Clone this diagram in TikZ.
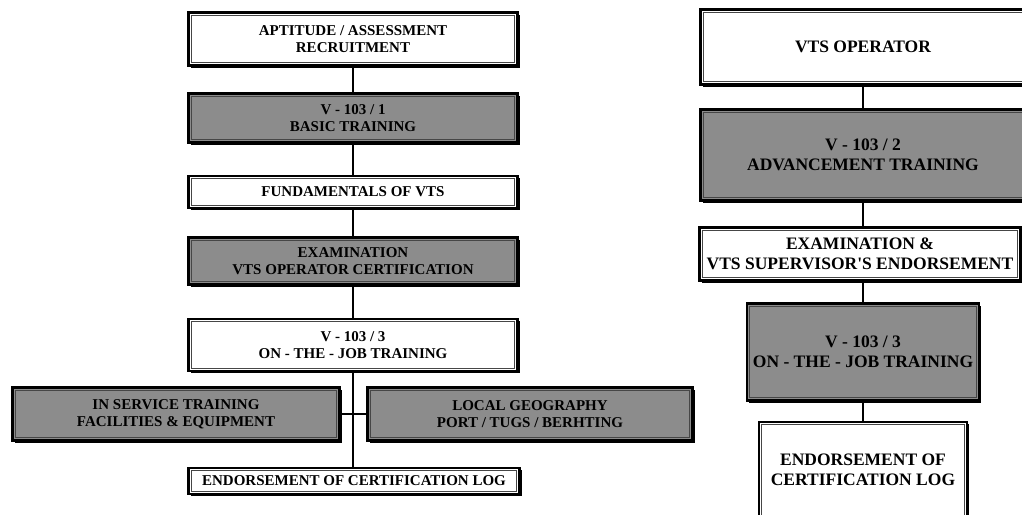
\documentclass[tikz,border=0pt]{standalone}
\usepackage{fontspec}
\setmainfont{Liberation Serif}
\usetikzlibrary{shadows,calc}
\definecolor{boxgray}{RGB}{140,140,140}
\definecolor{innerline}{RGB}{70,70,70}
\tikzset{
  vbox/.style={draw=black, line width=2.2pt, inner sep=0pt, align=center,
    font=\bfseries\fontsize{15}{17}\selectfont,
    drop shadow={shadow xshift=2pt, shadow yshift=-2pt, fill=black, opacity=1}},
  wbox/.style={vbox, fill=white},
  gbox/.style={vbox, fill=boxgray},
  bigtext/.style={font=\bfseries\fontsize{17.5}{20}\selectfont},
  conn/.style={draw=black, line width=2.6pt},
  inner/.style={draw=innerline, line width=1pt},
}
\begin{document}
\begin{tikzpicture}[x=1pt, y=-1pt]
\useasboundingbox (0,0) rectangle (1022,514);
\clip (0,0) rectangle (1022,514);
% left column
\node[wbox, minimum width=329, minimum height=53] (a1) at (353,39) {APTITUDE / ASSESSMENT\\RECRUITMENT};
\node[gbox, minimum width=329, minimum height=49] (a2) at (353,118) {V - 103 / 1\\BASIC TRAINING};
\node[wbox, minimum width=329, minimum height=32] (a3) at (353,192) {FUNDAMENTALS OF VTS};
\node[gbox, minimum width=329, minimum height=47] (a4) at (353,261) {EXAMINATION\\VTS OPERATOR CERTIFICATION};
\node[wbox, minimum width=329, minimum height=52] (a5) at (353,345) {V - 103 / 3\\ON - THE - JOB TRAINING};
\node[gbox, minimum width=327, minimum height=53] (s1) at (176,414) {IN SERVICE TRAINING\\FACILITIES \& EQUIPMENT};
\node[gbox, minimum width=325, minimum height=53] (s2) at (530,414) {LOCAL GEOGRAPHY\\PORT / TUGS / BERHTING};
\node[wbox, minimum width=331, minimum height=26] (a6) at (354,481) {ENDORSEMENT OF CERTIFICATION LOG};
% right column
\node[wbox, bigtext, minimum width=325, minimum height=75] (b1) at (863,47) {VTS OPERATOR};
\node[gbox, bigtext, minimum width=325, minimum height=91] (b2) at (863,155) {V - 103 / 2\\ADVANCEMENT TRAINING};
\node[wbox, bigtext, minimum width=321, minimum height=53] (b3) at (860,254) {EXAMINATION \&\\VTS SUPERVISOR\textquotesingle S ENDORSEMENT};
\node[gbox, bigtext, minimum width=232, minimum height=97] (b4) at (863,352) {V - 103 / 3\\ON - THE - JOB TRAINING};
\node[wbox, bigtext, minimum width=208, minimum height=96] (b5) at (863,470) {ENDORSEMENT OF\\CERTIFICATION LOG};
% inner lines
\foreach \n in {a1,a2,a3,a4,a5,s1,s2,a6,b1,b2,b3,b4,b5}
  \draw[inner] ($(\n.south west)+(3.8,-3.8)$) rectangle ($(\n.north east)+(-3.8,3.8)$);
% connectors
\draw[conn] (a1.south) -- (a2.north);
\draw[conn] (a2.south) -- (a3.north);
\draw[conn] (a3.south) -- (a4.north);
\draw[conn] (a4.south) -- (a5.north);
\draw[conn] (a5.south) -- (a5.south |- a6.north);
\draw[conn] (s1.east) -- (s2.west);
\draw[conn] (b1.south) -- (b2.north);
\draw[conn] (b2.south) -- (b2.south |- b3.north);
\draw[conn] (b4.north |- b3.south) -- (b4.north);
\draw[conn] (b4.south) -- (b5.north);
\end{tikzpicture}
\end{document}
